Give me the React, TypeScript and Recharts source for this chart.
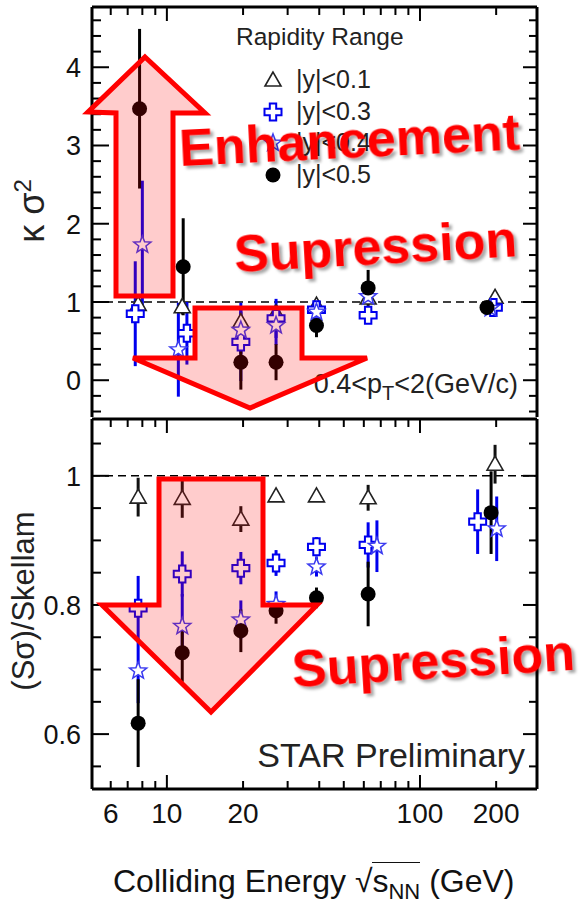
import React from "react";
import { ScatterChart, Scatter, XAxis, YAxis, ErrorBar, ReferenceLine, Legend } from "recharts";

const FONT = '"Liberation Sans", Arial, Helvetica, sans-serif';
const BLUE = "#0000ee";
const STAR_BLUE = "#3a3af0";

// beam energies (GeV)
const energies = [7.7, 11.5, 19.6, 27, 39, 62.4, 200];

// kappa sigma^2, x as drawn (series are nudged sideways in the original)
const kapTriX = [7.7, 11.5, 19.6, 27, 39, 62.4, 198];
const kapTri = [0.97, 0.94, 0.75, 0.86, 0.96, 1.05, 1.06];
const kapTriErr = [0.1, 0.1, 0.12, 0.1, 0.05, 0.05, 0.04];
const kapCrossX = [7.5, 12.0, 19.6, 27, 39, 62.4, 195];
const kapCross = [0.85, 0.6, 0.49, 0.79, 0.9, 0.83, 0.93];
const kapCrossErr = [0.67, 0.4, 0.5, 0.25, 0.1, 0.1, 0.05];
const kapStarX = [8.0, 11.1, 19.6, 27, 39, 62.4, 190];
const kapStar = [1.73, 0.39, 0.64, 0.7, 0.87, 1.07, 0.92];
const kapStarErr = [0.82, 0.6, 0.3, 0.25, 0.1, 0.1, 0.05];
const kapDotX = [7.8, 11.6, 19.6, 27, 39, 62.4, 184];
const kapDot = [3.47, 1.45, 0.23, 0.23, 0.7, 1.18, 0.93];
const kapDotErr = [1.02, 0.62, 0.35, 0.23, 0.15, 0.23, 0.07];

// S sigma / Skellam
const sTriX = [7.7, 11.5, 19.6, 27, 39, 62.4, 198];
const sTri = [0.967, 0.965, 0.933, 0.969, 0.969, 0.966, 1.018];
const sTriErr = [0.03, 0.03, 0.02, 0.004, 0.004, 0.02, 0.03];
const sCrossX = [7.7, 11.5, 19.6, 27, 39, 62.4, 169];
const sCross = [0.795, 0.848, 0.857, 0.865, 0.89, 0.893, 0.929];
const sCrossErr = [0.05, 0.035, 0.025, 0.02, 0.015, 0.035, 0.05];
const sStarX = [7.7, 11.5, 19.6, 27, 39, 67.6, 201];
const sStar = [0.698, 0.767, 0.777, 0.801, 0.859, 0.891, 0.918];
const sStarErr = [0.05, 0.05, 0.03, 0.02, 0.015, 0.04, 0.05];
const sDotX = [7.7, 11.5, 19.6, 27, 39, 62.4, 191];
const sDot = [0.617, 0.726, 0.76, 0.791, 0.811, 0.817, 0.943];
const sDotErr = [0.068, 0.045, 0.033, 0.02, 0.016, 0.05, 0.064];

const seriesNames = ["|y|<0.1", "|y|<0.3", "|y|<0.4", "|y|<0.5"];

const xTicks = [6, 7, 8, 9, 10, 20, 30, 40, 50, 60, 70, 80, 90, 100, 200];
const xMajor = [10, 100];
const xLabeled = [6, 10, 20, 100, 200];
const kapTicks = [-0.4, -0.2, 0, 0.2, 0.4, 0.6, 0.8, 1, 1.2, 1.4, 1.6, 1.8, 2, 2.2, 2.4, 2.6, 2.8, 3, 3.2, 3.4, 3.6, 3.8, 4, 4.2, 4.4, 4.6];
const kapMajor = [0, 1, 2, 3, 4];
const sTicks = [0.55, 0.6, 0.65, 0.7, 0.75, 0.8, 0.85, 0.9, 0.95, 1, 1.05];
const sMajor = [0.6, 0.8, 1];

const X_DOMAIN = [5.06, 290];

const pts = (xs: number[], ys: number[], es: number[]) =>
  xs.map((x, i) => ({ x, y: ys[i], err: es[i], e: energies[i] }));

function TriMark({ cx, cy }: { cx: number; cy: number }) {
  return <polygon points={`${cx},${cy - 8} ${cx - 8},${cy + 6} ${cx + 8},${cy + 6}`} fill="#fff" stroke="#222" strokeWidth={1.6} />;
}

function CrossMark({ cx, cy }: { cx: number; cy: number }) {
  const a = 3.2, b = 8.5;
  const p = [
    [-a, -b], [a, -b], [a, -a], [b, -a], [b, a], [a, a],
    [a, b], [-a, b], [-a, a], [-b, a], [-b, -a], [-a, -a],
  ].map(([dx, dy]) => `${cx + dx},${cy + dy}`).join(" ");
  return <polygon points={p} fill="#fff" stroke={BLUE} strokeWidth={2} />;
}

function StarMark({ cx, cy }: { cx: number; cy: number }) {
  const p: string[] = [];
  for (let i = 0; i < 10; i++) {
    const r = i % 2 === 0 ? 9 : 3.8;
    const ang = -Math.PI / 2 + (i * Math.PI) / 5;
    p.push(`${cx + r * Math.cos(ang)},${cy + r * Math.sin(ang)}`);
  }
  return <polygon points={p.join(" ")} fill="#fff" stroke={STAR_BLUE} strokeWidth={1.5} />;
}

function DotMark({ cx, cy }: { cx: number; cy: number }) {
  return <circle cx={cx} cy={cy} r={7.5} fill="#000" />;
}

const marks = [TriMark, CrossMark, StarMark, DotMark];

function xTick(side: "top" | "bottom", labeled: boolean) {
  return (p: any) => {
    const v = p.payload.value;
    const len = xMajor.includes(v) ? 14 : 8;
    const dir = side === "bottom" ? -1 : 1;
    return (
      <g>
        <line x1={p.x} y1={p.y} x2={p.x} y2={p.y + dir * len} stroke="#000" strokeWidth={2} />
        {labeled && xLabeled.includes(v) && (
          <text x={p.x} y={p.y + 34} textAnchor="middle" fontSize={28} fill="#111" fontFamily={FONT}>{v}</text>
        )}
      </g>
    );
  };
}

function yTick(side: "left" | "right", majors: number[], labeled: boolean) {
  return (p: any) => {
    const v = p.payload.value;
    const major = majors.includes(v);
    const len = side === "left" ? (major ? 17 : 9) : (major ? 14 : 8);
    const dir = side === "left" ? 1 : -1;
    return (
      <g>
        <line x1={p.x} y1={p.y} x2={p.x + dir * len} y2={p.y} stroke="#000" strokeWidth={2} />
        {labeled && major && (
          <text x={p.x - 11} y={p.y + 10} textAnchor="end" fontSize={27} fill="#111" fontFamily={FONT}>
            {v === 1 ? "1" : String(v)}
          </text>
        )}
      </g>
    );
  };
}

function RapidityLegend() {
  const rows = [65, 97, 128, 160];
  return (
    <svg width={220} height={185} style={{ overflow: "visible" }}>
      <text x={8} y={30} fontSize={24.5} fill="#222" fontFamily={FONT}>Rapidity Range</text>
      {seriesNames.map((name, i) => {
        const M = marks[i];
        return (
          <g key={name}>
            <M cx={45} cy={rows[i]} />
            <text x={68} y={rows[i] + 8} fontSize={25} fill="#222" fontFamily={FONT}>{name}</text>
          </g>
        );
      })}
    </svg>
  );
}

interface PanelProps {
  top: number;
  height: number;
  margin: { top: number; right: number; bottom: number; left: number };
  xAxisHeight: number;
  yDomain: number[];
  yTicks: number[];
  yMajor: number[];
  data: { x: number; y: number; err: number }[][];
  showXLabels: boolean;
  legend?: boolean;
}

function Panel({ top, height, margin, xAxisHeight, yDomain, yTicks, yMajor, data, showXLabels, legend }: PanelProps) {
  const barColors = ["#111", BLUE, BLUE, "#000"];
  return (
    <div style={{ position: "absolute", left: 0, top }}>
      <ScatterChart width={583} height={height} margin={margin}>
        <XAxis xAxisId="b" dataKey="x" type="number" scale="log" domain={X_DOMAIN} allowDataOverflow
          ticks={xTicks} interval={0} orientation="bottom" height={xAxisHeight}
          axisLine={{ stroke: "#000", strokeWidth: 3 }} tickLine={false} tickSize={0} tickMargin={0}
          tick={xTick("bottom", showXLabels)} />
        <XAxis xAxisId="t" dataKey="x" type="number" scale="log" domain={X_DOMAIN} allowDataOverflow
          ticks={xTicks} interval={0} orientation="top" height={1}
          axisLine={{ stroke: "#000", strokeWidth: 3 }} tickLine={false} tickSize={0} tickMargin={0}
          tick={xTick("top", false)} />
        <YAxis yAxisId="l" dataKey="y" type="number" domain={yDomain} allowDataOverflow
          ticks={yTicks} interval={0} width={92}
          axisLine={{ stroke: "#000", strokeWidth: 3 }} tickLine={false} tickSize={0} tickMargin={0}
          tick={yTick("left", yMajor, true)} />
        <YAxis yAxisId="r" dataKey="y" type="number" orientation="right" domain={yDomain} allowDataOverflow
          ticks={yTicks} interval={0} width={1}
          axisLine={{ stroke: "#000", strokeWidth: 3 }} tickLine={false} tickSize={0} tickMargin={0}
          tick={yTick("right", yMajor, false)} />
        <ReferenceLine xAxisId="b" yAxisId="l" y={1} stroke="#000" strokeWidth={1.5} strokeDasharray="8 5" />
        {/* invisible series so the mirrored top/right axes get drawn */}
        <Scatter xAxisId="t" yAxisId="r" data={data[3]} legendType="none" isAnimationActive={false} shape={() => <g />} />
        {data.map((d, i) => {
          const M = marks[i];
          return (
            <Scatter key={seriesNames[i]} name={seriesNames[i]} xAxisId="b" yAxisId="l" data={d}
              isAnimationActive={false} shape={(p: any) => <M cx={p.cx} cy={p.cy} />}>
              <ErrorBar dataKey="err" direction="y" width={0} stroke={barColors[i]} strokeWidth={3} isAnimationActive={false} />
            </Scatter>
          );
        })}
        {legend && (
          <Legend layout="vertical" align="center" verticalAlign="middle"
            wrapperStyle={{ left: 228, top: 15, width: 220, height: 185 }}
            content={() => <RapidityLegend />} />
        )}
      </ScatterChart>
    </div>
  );
}

const redText = { fill: "#ff0000", fontWeight: 700, fontSize: 52, fontFamily: FONT, filter: "url(#shadow)" };

export default function App() {
  const kapData = [
    pts(kapTriX, kapTri, kapTriErr),
    pts(kapCrossX, kapCross, kapCrossErr),
    pts(kapStarX, kapStar, kapStarErr),
    pts(kapDotX, kapDot, kapDotErr),
  ];
  const sData = [
    pts(sTriX, sTri, sTriErr),
    pts(sCrossX, sCross, sCrossErr),
    pts(sStarX, sStar, sStarErr),
    pts(sDotX, sDot, sDotErr),
  ];
  return (
    <div style={{ position: "absolute", left: 0, top: 0, width: 583, height: 907, background: "#fff", fontFamily: FONT, overflow: "hidden" }}>
      <Panel top={0} height={420} margin={{ top: 6, right: 45, bottom: 3, left: 0 }} xAxisHeight={0}
        yDomain={[-0.47, 4.77]} yTicks={kapTicks} yMajor={kapMajor} data={kapData} showXLabels={false} legend />
      <Panel top={416} height={491} margin={{ top: 2, right: 45, bottom: 0, left: 0 }} xAxisHeight={118}
        yDomain={[0.515, 1.088]} yTicks={sTicks} yMajor={sMajor} data={sData} showXLabels />

      <svg width={583} height={907} style={{ position: "absolute", left: 0, top: 0, pointerEvents: "none" }}>
        <defs>
          <filter id="shadow" x="-5%" y="-20%" width="115%" height="150%">
            <feDropShadow dx="3" dy="3" stdDeviation="1.5" floodColor="#000" floodOpacity="0.35" />
          </filter>
        </defs>

        {/* annotations */}
        <text x={518} y={393} textAnchor="end" fontSize={27} fill="#222">
          {"0.4<p"}<tspan dy={7} fontSize={20}>T</tspan><tspan dy={-7}>{"<2(GeV/c)"}</tspan>
        </text>
        <text x={525} y={767} textAnchor="end" fontSize={34} fill="#222">STAR Preliminary</text>

        {/* axis titles */}
        <text transform="translate(44,211) rotate(-90)" textAnchor="middle" fontSize={36} fill="#222">
          {"κ σ"}<tspan dy={-13} fontSize={24}>2</tspan>
        </text>
        <text transform="translate(34,601) rotate(-90)" textAnchor="middle" fontSize={31} fill="#222">(Sσ)/Skellam</text>

        {/* arrows */}
        <g fill="#ff0000" fillOpacity={0.2} stroke="#ff0000" strokeWidth={5} strokeLinejoin="miter">
          <polygon points="145,57 205,113 173,113 173,296 116,296 116,113 88,112" />
          <polygon points="195,308 302,308 302,358 367,358 250,408 133,358 195,358" />
          <polygon points="159,479 263,479 263,605 317,605 211,712 102,605 159,605" />
        </g>

        <text x={180} y={166} transform="rotate(-2.8 180 166)" style={redText}>Enhancement</text>
        <text x={235} y={272} transform="rotate(-3.2 235 272)" style={redText}>Supression</text>
        <text x={293} y={687} transform="rotate(-3.5 293 687)" style={redText}>Supression</text>
      </svg>

      <div style={{ position: "absolute", left: 113, top: 862, fontSize: 32, color: "#111", whiteSpace: "nowrap", lineHeight: "38px" }}>
        Colliding Energy √<span style={{ borderTop: "1.5px solid #111" }}>s<sub style={{ fontSize: 22 }}>NN</sub></span> (GeV)
      </div>
    </div>
  );
}
